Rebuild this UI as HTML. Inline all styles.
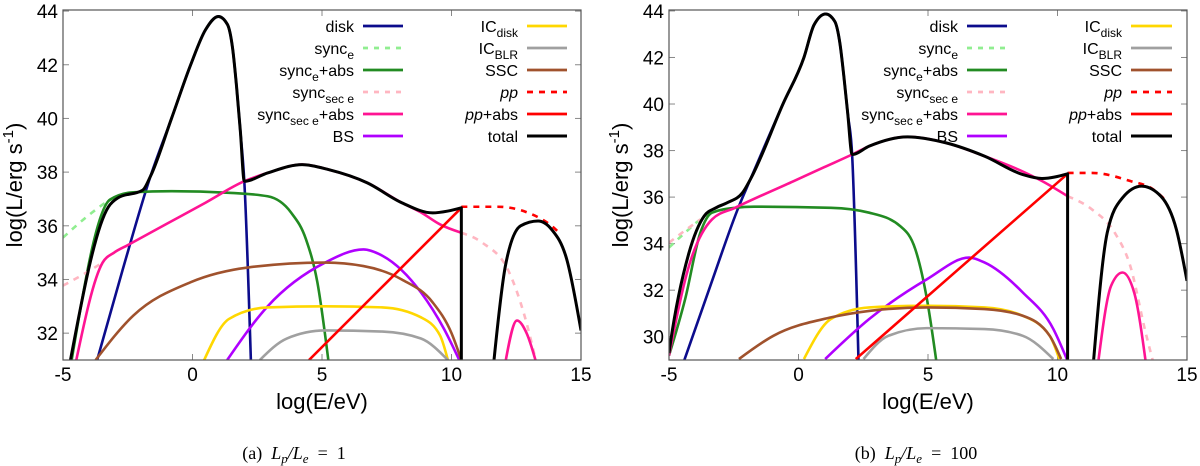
<!DOCTYPE html>
<html><head><meta charset="utf-8"><style>
html,body{margin:0;padding:0;background:#fff;}
svg{display:block;font-family:"Liberation Sans",sans-serif;}
</style></head><body>
<svg id="fig" width="1200" height="466" viewBox="0 0 1200 466" xmlns="http://www.w3.org/2000/svg"></svg>
<script>
// ---------- Panel (a) data: [log E, log L] ----------
const diskA=[[-3.74,30.8],[-2.7,34.35],[-1.62,37.85],[-0.81,40],[-0.07,42],[0.5,43.3],[1.0,43.8],[1.35,43.5],[1.55,42.6],[1.7,41.2],[1.85,39.5],[2.0,37.66],[2.26,30.8]];
const syncEA=[[-5,35.56],[-4,36.4],[-3.2,36.95],[-2.5,37.2]];
const syncEabsA=[[-4.7,30.8],[-3.18,36.98],[-2.29,37.25],[-0.8,37.29],[1.41,37.23],[2.9,37.1],[3.8,36.5],[4.38,35.5],[4.82,33.9],[5.27,30.8]];
const syncSecA=[[-5,33.77],[-4.2,34.2],[-3.47,34.63]];
const syncSecA2=[[10.38,35.74],[11.19,35.37],[12.23,34.26],[12.82,32.65],[13.3,30.8]];
const syncSecAbsA=[[-4.53,30.8],[-3.47,34.63],[-3.03,35.0],[-2.5,35.28],[-1.0,36.07],[0.5,36.86],[2.0,37.66],[2.9,37.97],[4.23,38.28],[5.27,38.09],[6.75,37.6],[8.08,36.86],[8.82,36.5],[9.56,36.05],[10.38,35.74]];
const syncSecAbsA2=[[12.06,30.8],[12.53,32.47],[12.9,32.0],[13.3,30.8]];
const bsA=[[1.34,31],[2.9,33.0],[5.12,34.63],[6.6,35.12],[7.34,34.88],[8.82,33.52],[9.71,32.16],[10.3,31]];
const icDiskA=[[0.45,31],[1.41,32.53],[2.9,32.96],[5.12,33.0],[7.34,32.96],[8.82,32.59],[9.56,31.91],[9.86,31]];
const icBlrA=[[2.6,31],[3.64,31.8],[5.12,32.1],[7.34,32.06],[8.82,31.8],[9.86,31]];
const sscA=[[-3.74,31],[-2.29,32.65],[-0.07,33.9],[2.16,34.45],[5.12,34.63],[6.6,34.5],[8.08,34.0],[9.27,33.15],[10.0,32.0],[10.38,31]];
const ppA=[[10.38,36.71],[11.78,36.71],[12.97,36.48],[13.86,36.0],[14.16,35.74]];
const ppAbsA=[[4.5,31],[10.38,36.67]];
const totalA=[[-4.75,30.8],[-3.25,36.7],[-2.88,37.04],[-1.92,37.33],[-1.62,37.85],[-0.81,40],[-0.07,42],[0.5,43.3],[1.0,43.8],[1.35,43.5],[1.55,42.6],[1.7,41.2],[1.85,39.5],[2.0,37.66],[2.9,37.97],[4.23,38.28],[5.27,38.09],[6.75,37.6],[8.08,36.86],[9.27,36.48],[9.86,36.55],[10.38,36.67],[10.38,30.8]];
const totalA2=[[11.62,30.8],[12.08,34.5],[12.67,36.0],[13.34,36.18],[13.86,35.87],[14.45,34.75],[15,32.1]];

// ---------- Panel (b) data ----------
const diskB=[[-4.47,28.8],[-3.4,32.2],[-2.3,35.61],[-1.86,36.76],[-0.6,40],[0.21,42],[0.6,43.4],[1.05,43.87],[1.4,43.55],[1.6,42.6],[1.75,41.2],[1.9,39.6],[2.07,37.83],[2.32,28.8]];
const syncEB=[[-5,33.83],[-4.4,34.45],[-3.79,35.04],[-3.3,35.35]];
const syncEabsB=[[-5,29.19],[-4.38,31.6],[-3.79,34.47],[-3.34,35.33],[-2.45,35.54],[-1.71,35.59],[1.25,35.54],[2.73,35.33],[3.92,34.76],[4.51,33.76],[4.96,31.61],[5.34,28.8]];
const syncSecB=[[-5,34.04],[-4.4,34.55],[-3.79,35.04]];
const syncSecB2=[[10.39,36.04],[11.33,35.47],[12.21,34.47],[12.81,33.04],[13.4,30.19],[13.72,28.8]];
const syncSecAbsB=[[-5,29.19],[-4.23,33.04],[-3.34,35.04],[-2.45,35.54],[-0.2,36.68],[1.0,37.29],[2.07,37.83],[2.73,38.19],[4.21,38.59],[5.7,38.33],[7.18,37.76],[8.66,37.1],[9.4,36.69],[10.39,36.04]];
const syncSecAbsB2=[[11.56,28.8],[12.07,32.19],[12.51,32.76],[12.96,31.9],[13.42,28.8]];
const bsB=[[1.03,29.04],[2.73,30.76],[4.96,32.47],[6.59,33.4],[7.18,33.19],[8.66,31.9],[9.84,30.33],[10.36,29.04]];
const icDiskB=[[0.21,29.04],[1.25,30.76],[2.73,31.26],[4.96,31.33],[7.18,31.26],[8.66,30.9],[9.7,30.04],[10.07,29.04]];
const icBlrB=[[2.51,29.04],[3.47,30.04],[4.96,30.37],[7.18,30.33],[8.66,30.04],[9.84,29.04]];
const sscB=[[-2.3,29.04],[-0.97,30.04],[1.25,30.83],[2.73,31.11],[4.96,31.26],[7.18,31.19],[8.66,30.9],[9.7,30.04],[10.14,29.04]];
const ppB=[[10.39,37.04],[11.33,37.04],[12.81,36.69],[13.7,36.33],[14.14,35.9]];
const ppAbsB=[[2.21,29.04],[10.39,37.0]];
const totalB=[[-5,29.3],[-4.97,29.54],[-4.23,33.6],[-3.64,35.19],[-3.19,35.54],[-2.75,35.76],[-2.16,36.19],[-1.86,36.76],[-0.6,40],[0.21,42],[0.6,43.4],[1.05,43.87],[1.4,43.55],[1.6,42.6],[1.75,41.2],[1.9,39.6],[2.07,37.83],[2.73,38.19],[4.21,38.59],[5.7,38.33],[7.18,37.76],[8.66,36.97],[9.4,36.8],[10.39,37.0],[10.39,28.8]];
const totalB2=[[11.38,28.8],[11.92,34.47],[12.51,35.97],[13.25,36.47],[13.99,36.04],[14.59,34.61],[15,32.4]];

const xTicks=[-5,0,5,10,15];
const yTicksA=[32,34,36,38,40,42,44];
const yTicksB=[30,32,34,36,38,40,42,44];

const NS="http://www.w3.org/2000/svg";
const svg=document.getElementById('fig');
function mk(tag,attrs,parent){const e=document.createElementNS(NS,tag);for(const k in attrs)e.setAttribute(k,attrs[k]);(parent||svg).appendChild(e);return e;}

function monoPath(pts){
  let d='';let runs=[];let cur=[pts[0]];
  for(let i=1;i<pts.length;i++){if(pts[i][0]>cur[cur.length-1][0]+0.01)cur.push(pts[i]);else{runs.push(cur);cur=[pts[i]];}}
  runs.push(cur);
  runs.forEach((r,ri)=>{
    d+=(ri===0?'M':'L')+r[0][0].toFixed(2)+','+r[0][1].toFixed(2);
    const n=r.length;if(n<2)return;
    const h=[],s=[];for(let i=0;i<n-1;i++){h[i]=r[i+1][0]-r[i][0];s[i]=(r[i+1][1]-r[i][1])/h[i];}
    const t=[];
    for(let i=1;i<n-1;i++){const p=(s[i-1]*h[i]+s[i]*h[i-1])/(h[i-1]+h[i]);t[i]=(Math.sign(s[i-1])+Math.sign(s[i]))*Math.min(Math.abs(s[i-1]),Math.abs(s[i]),0.5*Math.abs(p))||0;}
    if(n===2){t[0]=s[0];t[1]=s[0];}else{t[0]=(3*s[0]-t[1])/2;t[n-1]=(3*s[n-2]-t[n-2])/2;}
    for(let i=0;i<n-1;i++){const x0=r[i][0],y0=r[i][1],x1=r[i+1][0],y1=r[i+1][1],dx=h[i]/3;
      d+=`C${(x0+dx).toFixed(2)},${(y0+t[i]*dx).toFixed(2)} ${(x1-dx).toFixed(2)},${(y1-t[i+1]*dx).toFixed(2)} ${x1.toFixed(2)},${y1.toFixed(2)}`;}
  });
  return d;
}

function panel(id,x0,x1,yT,yB,yMin,yMax,yTicks,series,legendL,legendR,ytitleX,caption,capX){
  const g=mk('g',{});
  
  
  const sx=v=>x0+(v+5)/20*(x1-x0);
  const sy=v=>yB-(v-yMin)/(yMax-yMin)*(yB-yT);
  const cid='clip-'+id;
  const cp=mk('clipPath',{id:cid},g);mk('rect',{x:x0,y:yT,width:x1-x0,height:yB-yT},cp);
  xTicks.forEach(v=>{
    const X=sx(v);
    if(v>-5&&v<15){mk('line',{x1:X,y1:yB,x2:X,y2:yB-6,stroke:'#888','stroke-width':1},g);mk('line',{x1:X,y1:yT,x2:X,y2:yT+6,stroke:'#888','stroke-width':1},g);}
    const t=mk('text',{x:X,y:yB+21,'text-anchor':'middle','font-size':19,fill:'#000'},g);t.textContent=v;
    
    
  });
  yTicks.forEach(v=>{
    const Y=sy(v);
    mk('line',{x1:x0,y1:Y,x2:x0+6,y2:Y,stroke:'#888','stroke-width':1},g);mk('line',{x1:x1,y1:Y,x2:x1-6,y2:Y,stroke:'#888','stroke-width':1},g);
    const t=mk('text',{x:x0-5,y:Y+7,'text-anchor':'end','font-size':19,fill:'#000'},g);t.textContent=v;
    
    
  });
  const cg=mk('g',{'clip-path':`url(#${cid})`},g);
  series.forEach(s=>{
    s.data.forEach(pts=>{
      const p=mk('path',{d:monoPath(pts.map(q=>[sx(q[0]),sy(q[1])])),fill:'none',stroke:s.color,'stroke-width':s.w||2.6,'stroke-dasharray':s.dash||'none','stroke-linejoin':'round'},cg);
      
      
    });
  });
  mk('rect',{x:x0,y:yT,width:x1-x0,height:yB-yT,fill:'none',stroke:'#555','stroke-width':1.2},g);
  function leg(list,textEnd,lx1,lx2){
    list.forEach((e,i)=>{
      const Y=26+i*22;
      const t=mk('text',{x:textEnd,y:Y+6,'text-anchor':'end','font-size':16,fill:'#000'},g);
      t.innerHTML=e.label;
      
      
      const l=mk('line',{x1:lx1,y1:Y,x2:lx2,y2:Y,stroke:e.color,'stroke-width':e.w||2.8,'stroke-dasharray':e.dash||'none'},g);
      
      
    });
  }
  leg(legendL.list,legendL.end,legendL.a,legendL.b);
  leg(legendR.list,legendR.end,legendR.a,legendR.b);
  const xt=mk('text',{x:(x0+x1)/2,y:yB+49,'text-anchor':'middle','font-size':22,fill:'#000'},g);
  xt.textContent='log(E/eV)';
  
  
  const yt=mk('text',{x:0,y:0,'text-anchor':'middle','font-size':22,fill:'#000',transform:`translate(${ytitleX},${(yT+yB)/2}) rotate(-90)`},g);
  yt.innerHTML='log(L/erg s<tspan font-size="15" dy="-9">-1</tspan><tspan dy="9">)</tspan>';
  
  
  const cap=mk('text',{x:capX,y:459,'text-anchor':'middle','font-size':18,fill:'#000','font-family':'Liberation Serif, serif'},g);
  cap.innerHTML=caption;
  
  
}

const C={disk:'#0c0c8c',syncE:'#90ee90',syncEabs:'#228b22',syncSec:'#ffb6c1',syncSecAbs:'#ff1493',bs:'#b000ff',icDisk:'#ffd700',icBlr:'#a0a0a0',ssc:'#a0522d',pp:'#ff0000',total:'#000'};
function mkSeries(d){return [
  {name:'disk',color:C.disk,data:[d.disk]},
  {name:'sync-e',color:C.syncE,dash:'6,6',data:[d.syncE]},
  {name:'sync-e-abs',color:C.syncEabs,data:[d.syncEabs]},
  {name:'sync-sec-e',color:C.syncSec,dash:'6,6',data:d.syncSec},
  {name:'sync-sec-e-abs',color:C.syncSecAbs,data:d.syncSecAbs},
  {name:'bs',color:C.bs,data:[d.bs]},
  {name:'ic-disk',color:C.icDisk,data:[d.icDisk]},
  {name:'ic-blr',color:C.icBlr,data:[d.icBlr]},
  {name:'ssc',color:C.ssc,data:[d.ssc]},
  {name:'pp',color:C.pp,dash:'6,6',data:[d.pp]},
  {name:'pp-abs',color:C.pp,data:[d.ppAbs]},
  {name:'total',color:C.total,w:3,data:d.total}
];}
const sub=(b,s)=>`${b}<tspan font-size="12" dy="5">${s}</tspan>`;
const legL=[
  {label:'disk',color:C.disk},
  {label:sub('sync','e'),color:C.syncE,dash:'5,6'},
  {label:sub('sync','e')+'<tspan dy="-5">+abs</tspan>',color:C.syncEabs},
  {label:sub('sync','sec e'),color:C.syncSec,dash:'5,6'},
  {label:sub('sync','sec e')+'<tspan dy="-5">+abs</tspan>',color:C.syncSecAbs},
  {label:'BS',color:C.bs}];
const legR=[
  {label:sub('IC','disk'),color:C.icDisk},
  {label:sub('IC','BLR'),color:C.icBlr},
  {label:'SSC',color:C.ssc},
  {label:'<tspan font-style="italic">pp</tspan>',color:C.pp,dash:'6,6'},
  {label:'<tspan font-style="italic">pp</tspan>+abs',color:C.pp},
  {label:'total',color:C.total,w:3}];

panel('panel-a',63,581,10,360,31,44.04,yTicksA,
  mkSeries({disk:diskA,syncE:syncEA,syncEabs:syncEabsA,syncSec:[syncSecA,syncSecA2],syncSecAbs:[syncSecAbsA,syncSecAbsA2],bs:bsA,icDisk:icDiskA,icBlr:icBlrA,ssc:sscA,pp:ppA,ppAbs:ppAbsA,total:[totalA,totalA2]}),
  {list:legL,end:354,a:363,b:403},{list:legR,end:518,a:527,b:567},22,
  '(a)\u2002<tspan font-style="italic">L<tspan font-size="13" dy="4">p</tspan><tspan dy="-4">/L</tspan><tspan font-size="13" dy="4">e</tspan></tspan><tspan dy="-4">\u2002=\u20021</tspan>',294);
panel('panel-b',669,1187,10,360,29,44.04,yTicksB,
  mkSeries({disk:diskB,syncE:syncEB,syncEabs:syncEabsB,syncSec:[syncSecB,syncSecB2],syncSecAbs:[syncSecAbsB,syncSecAbsB2],bs:bsB,icDisk:icDiskB,icBlr:icBlrB,ssc:sscB,pp:ppB,ppAbs:ppAbsB,total:[totalB,totalB2]}),
  {list:legL,end:958,a:967,b:1007},{list:legR,end:1122,a:1131,b:1172},628,
  '(b)\u2002<tspan font-style="italic">L<tspan font-size="13" dy="4">p</tspan><tspan dy="-4">/L</tspan><tspan font-size="13" dy="4">e</tspan></tspan><tspan dy="-4">\u2002=\u2002100</tspan>',916);
</script>
</body></html>
